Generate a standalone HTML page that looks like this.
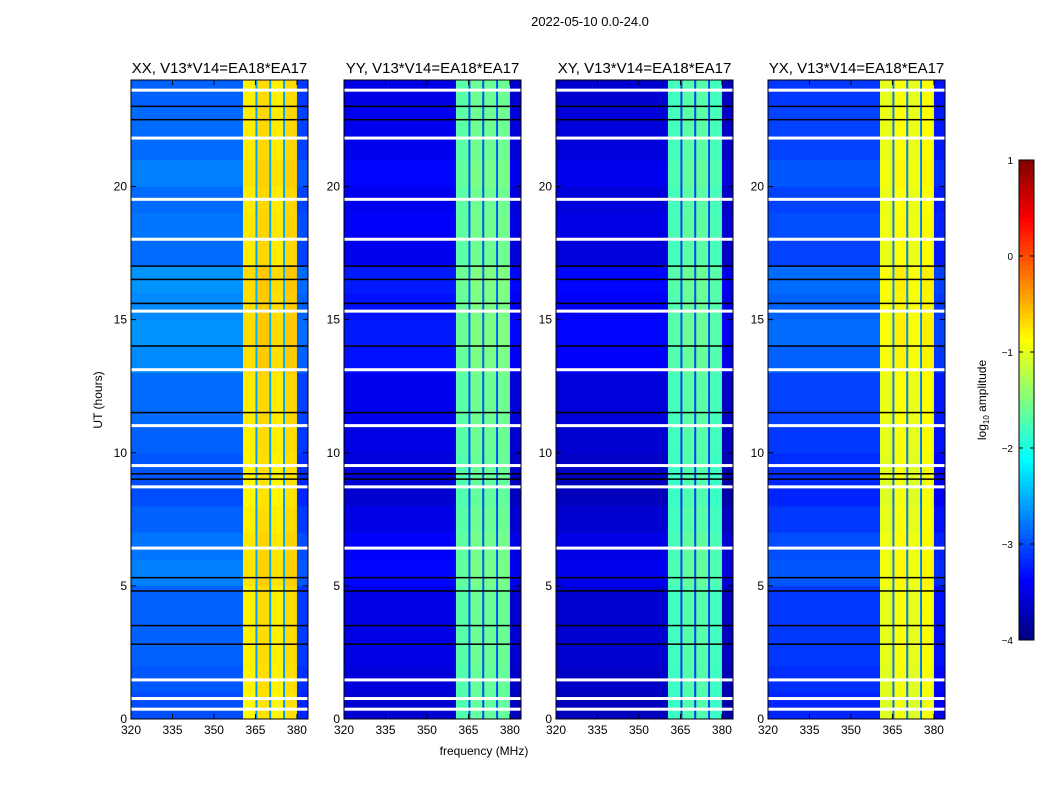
<!DOCTYPE html>
<html><head><meta charset="utf-8">
<style>
body{margin:0;background:#fff;width:1050px;height:800px;overflow:hidden;font-family:"Liberation Sans",sans-serif;}
svg{position:absolute;left:0;top:0}
</style></head>
<body>
<svg id="fig" width="1050" height="800"></svg>
<script>
// ---- data ----
const panelTitles = ["XX, V13*V14=EA18*EA17","YY, V13*V14=EA18*EA17","XY, V13*V14=EA18*EA17","YX, V13*V14=EA18*EA17"];
const chanStart = [320,360.5,365,365.7,370,370.7,375,375.7,380];
const chanEnd   = [360.5,365,365.7,370,370.7,375,375.7,380,384];
const levelsXX = [-2.9,-0.8,-2.6,-0.7,-2.6,-0.8,-2.6,-0.7,-3.1];
const levelsYY = [-3.5,-1.7,-3.0,-1.6,-3.0,-1.6,-3.0,-1.6,-3.6];
const levelsXY = [-3.6,-1.8,-3.1,-1.7,-3.1,-1.7,-3.1,-1.8,-3.7];
const levelsYX = [-3.1,-1.0,-2.8,-0.9,-2.8,-1.0,-2.8,-0.9,-3.3];
const hourOffset = [-0.1,-0.05,0,0,0,0.15,0.1,0,-0.1,-0.05,0,0.05,0.05,0.2,0.25,0.2,0.25,0.05,0.1,0.05,0.15,0.05,0.05,0];
const flaggedHours = [0.35,0.75,1.45,6.4,8.7,9.5,11.0,13.1,15.3,18.0,19.5,21.8,23.6];
const blackHours = [2.8,3.5,4.8,5.3,9.0,9.2,11.5,14.0,15.6,16.5,17.0,22.5,23.0];
const freqTicks = [320,335,350,365,380];
const timeTicks = [0,5,10,15,20];
const cbarTicks = [1,0,-1,-2,-3,-4];
// ---- layout ----
const panelX = [131,344,556,768];
const pw = 177, py0 = 80, ph = 639;
const fMin = 320, fMax = 384, tMax = 24;
const svg = document.getElementById('fig');
const NS = 'http://www.w3.org/2000/svg';
function mk(tag, attrs, parent){const e=document.createElementNS(NS,tag);for(const k in attrs)e.setAttribute(k,attrs[k]);(parent||svg).appendChild(e);return e;}
function jet(v){
  const r=Math.min(Math.max(Math.min(4*v-1.5,-4*v+4.5),0),1);
  const g=Math.min(Math.max(Math.min(4*v-0.5,-4*v+3.5),0),1);
  const b=Math.min(Math.max(Math.min(4*v+0.5,-4*v+2.5),0),1);
  return `rgb(${Math.round(r*255)},${Math.round(g*255)},${Math.round(b*255)})`;
}
function lvlColor(l){return jet((Math.max(-4,Math.min(1,l))+4)/5);}
const allLevels=[levelsXX,levelsYY,levelsXY,levelsYX];
function txt(x,y,s,size,anchor,name){const t=mk('text',{x:x,y:y,'font-size':size,'text-anchor':anchor||'middle','font-family':'Liberation Sans, sans-serif',fill:'#000'});t.textContent=s;return t;}
txt(590,26,"2022-05-10 0.0-24.0",13,'middle','figure-title');
panelX.forEach((px,pi)=>{
  const xs=f=>px+(f-fMin)/(fMax-fMin)*pw;
  const ys=t=>py0+ph-(t/tMax)*ph;
  const g=mk('g',{});
  
  
  const lv=allLevels[pi];
  for(let h=0;h<24;h++){
    for(let c=0;c<chanStart.length;c++){
      const off=(c===0||c===8)?hourOffset[h]:hourOffset[h]*0.4;
      const r=mk('rect',{x:xs(chanStart[c]),y:ys(h+1),width:xs(chanEnd[c])-xs(chanStart[c])+0.3,height:ys(h)-ys(h+1)+0.3,fill:lvlColor(lv[c]+off)},g);
      
      
    }
  }
  blackHours.forEach(t=>{const r=mk('rect',{x:px,y:ys(t)-1,width:pw,height:1.5,fill:'#000'},g);});
  flaggedHours.forEach(t=>{const r=mk('rect',{x:px,y:ys(t)-2,width:pw,height:3,fill:'#fff'},g);});
  const fr=mk('rect',{x:px,y:py0,width:pw,height:ph,fill:'none',stroke:'#000','stroke-width':1});
  
  freqTicks.forEach(f=>{mk('line',{x1:xs(f),x2:xs(f),y1:py0+ph,y2:py0+ph-5,stroke:'#000'});mk('line',{x1:xs(f),x2:xs(f),y1:py0,y2:py0+5,stroke:'#000'});txt(xs(f),py0+ph+15,String(f),12,'middle','x-tick-label');});
  timeTicks.forEach(t=>{mk('line',{x1:px,x2:px+5,y1:ys(t),y2:ys(t),stroke:'#000'});mk('line',{x1:px+pw,x2:px+pw-5,y1:ys(t),y2:ys(t),stroke:'#000'});txt(px-4,ys(t)+4,String(t),12,'end','y-tick-label');});
  txt(px+pw/2,py0-7,panelTitles[pi],15,'middle','panel-title');
});
txt(484,755,"frequency (MHz)",12,'middle','x-axis-title');
const yt=txt(0,0,"UT (hours)",12,'middle','y-axis-title');yt.setAttribute('transform','translate(102,400) rotate(-90)');
const cbx=1019,cbw=15,cby0=160,cbh=480;
const cbys=l=>cby0+(1-l)/5*cbh;
const cg=mk('g',{});
for(let i=0;i<100;i++){const l=1-5*i/100;mk('rect',{x:cbx,y:cbys(l),width:cbw,height:cbh/100+0.5,fill:lvlColor(l-0.025)},cg);}
mk('rect',{x:cbx,y:cby0,width:cbw,height:cbh,fill:'none',stroke:'#000'},cg);
cbarTicks.forEach(l=>{mk('line',{x1:cbx,x2:cbx+4,y1:cbys(l),y2:cbys(l),stroke:'#000'});mk('line',{x1:cbx+cbw,x2:cbx+cbw-4,y1:cbys(l),y2:cbys(l),stroke:'#000'});txt(cbx-6,cbys(l)+4,l<0?'\u2212'+(-l):String(l),10,'end','colorbar-tick-label');});
const cl=mk('text',{transform:'translate(986,400) rotate(-90)','font-size':12,'text-anchor':'middle','font-family':'Liberation Sans, sans-serif'});

cl.innerHTML='log<tspan font-size="8" dy="3">10</tspan><tspan dy="-3"> amplitude</tspan>';
</script>
</body></html>
